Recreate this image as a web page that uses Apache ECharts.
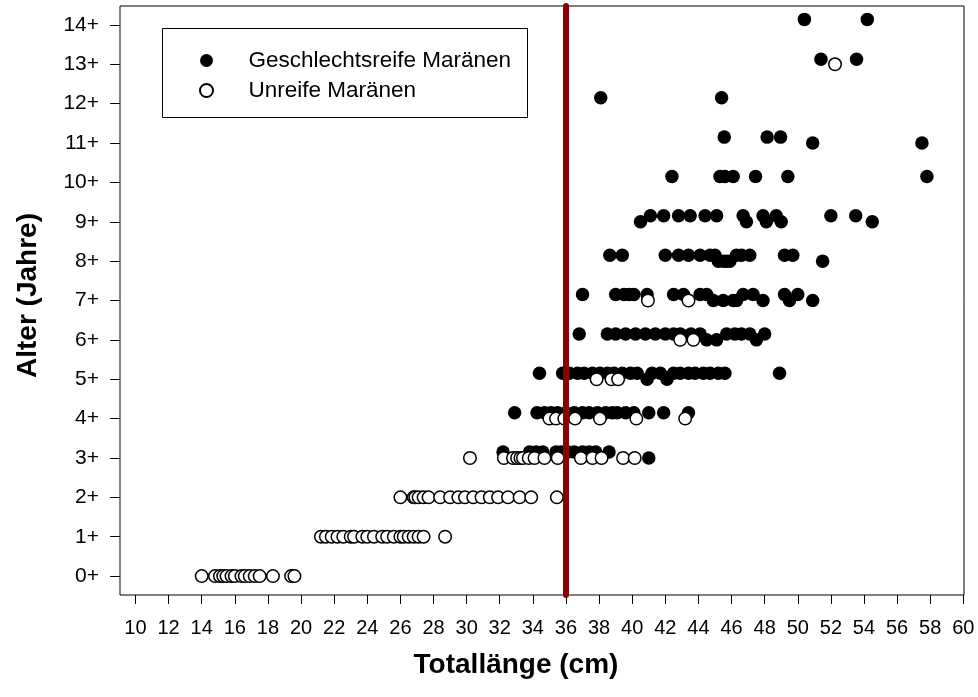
<!DOCTYPE html>
<html><head><meta charset="utf-8">
<script src="https://cdn.jsdelivr.net/npm/echarts@6/dist/echarts.min.js"></script>
<style>html,body{margin:0;padding:0;background:#fff}#c{width:978px;height:697px}</style>
</head><body><div id="c"></div>
<script>
// ---- data ----
const xTicks = [10,12,14,16,18,20,22,24,26,28,30,32,34,36,38,40,42,44,46,48,50,52,54,56,58,60];
const yTicks = [0,1,2,3,4,5,6,7,8,9,10,11,12,13,14];
const cutoffLength = [36];
const legendNames = ['Geschlechtsreife Maränen', 'Unreife Maränen'];

const matureLength = [
  32.2,33.8,34.2,34.6,35.4,35.7,36.1,36.5,37.0,37.4,37.8,38.6,41.0,
  32.9,34.25,34.7,35.1,35.5,36.0,36.5,37.0,37.4,37.9,38.4,38.8,39.1,39.6,40.1,41.0,41.9,43.4,
  34.4,35.8,36.2,36.7,37.1,37.6,38.05,38.5,38.9,39.4,39.9,40.3,41.2,41.7,42.5,42.9,43.4,43.8,44.3,44.7,45.2,45.6,48.9,40.9,42.1,
  36.8,38.5,39.0,39.6,40.2,40.8,41.4,42.0,42.5,42.9,43.55,44.1,45.7,46.2,46.6,47.1,48.0,44.5,45.1,47.5,
  37.0,39.0,39.5,39.8,40.1,40.9,42.5,43.1,44.1,44.5,46.7,47.3,49.2,50.0,44.9,45.5,46.1,46.3,47.9,49.5,50.9,
  38.65,39.4,42.0,42.8,43.4,44.1,44.7,45.0,46.3,46.6,47.1,49.2,49.7,45.2,45.5,45.7,45.9,51.5,
  41.1,41.9,42.8,43.5,44.4,45.1,46.7,47.9,48.7,52.0,53.5,40.5,46.9,48.1,49.0,54.5,
  42.4,45.3,45.6,46.1,47.45,49.4,57.8,
  45.56,48.15,48.96,50.9,57.5,
  38.1,45.4,
  51.4,53.55,
  50.4,54.2
];
const matureAge = [
  3.15,3.15,3.15,3.15,3.15,3.15,3.15,3.15,3.15,3.15,3.15,3.15,3.0,
  4.15,4.15,4.15,4.15,4.15,4.15,4.15,4.15,4.15,4.15,4.15,4.15,4.15,4.15,4.15,4.15,4.15,4.15,
  5.15,5.15,5.15,5.15,5.15,5.15,5.15,5.15,5.15,5.15,5.15,5.15,5.15,5.15,5.15,5.15,5.15,5.15,5.15,5.15,5.15,5.15,5.15,5.0,5.0,
  6.15,6.15,6.15,6.15,6.15,6.15,6.15,6.15,6.15,6.15,6.15,6.15,6.15,6.15,6.15,6.15,6.15,6.0,6.0,6.0,
  7.15,7.15,7.15,7.15,7.15,7.15,7.15,7.15,7.15,7.15,7.15,7.15,7.15,7.15,7.0,7.0,7.0,7.0,7.0,7.0,7.0,
  8.15,8.15,8.15,8.15,8.15,8.15,8.15,8.15,8.15,8.15,8.15,8.15,8.15,8.0,8.0,8.0,8.0,8.0,
  9.15,9.15,9.15,9.15,9.15,9.15,9.15,9.15,9.15,9.15,9.15,9.0,9.0,9.0,9.0,9.0,
  10.15,10.15,10.15,10.15,10.15,10.15,10.15,
  11.15,11.15,11.15,11.0,11.0,
  12.15,12.15,
  13.13,13.13,
  14.14,14.14
];

const immatureLength = [
  14.0,14.8,15.1,15.3,15.5,15.8,16.0,16.4,16.6,16.9,17.2,17.5,18.3,19.4,19.6,
  21.2,21.5,21.85,22.2,22.55,23.0,23.2,23.7,24.0,24.4,24.9,25.2,25.6,26.0,26.2,26.5,26.8,27.1,27.4,28.7,
  26.0,26.8,26.9,27.1,27.4,27.7,28.4,29.0,29.5,29.9,30.4,30.9,31.4,31.9,32.5,33.2,33.9,35.45,
  30.2,32.25,32.8,33.05,33.25,33.4,33.75,34.1,34.7,35.5,36.9,37.6,38.15,39.45,40.15,
  35.0,35.4,35.9,36.55,38.05,40.25,43.2,
  37.85,38.75,39.15,
  42.9,43.7,
  40.95,43.4,
  52.25
];
const immatureAge = [
  0,0,0,0,0,0,0,0,0,0,0,0,0,0,0,
  1,1,1,1,1,1,1,1,1,1,1,1,1,1,1,1,1,1,1,1,
  2,2,2,2,2,2,2,2,2,2,2,2,2,2,2,2,2,2,
  3,3,3,3,3,3,3,3,3,3,3,3,3,3,3,
  4,4,4,4,4,4,4,
  5,5,5,
  6,6,
  7,7,
  13
];

const font = "'Liberation Sans', Arial, Helvetica, sans-serif";
const chart = echarts.init(document.getElementById('c'), null, {renderer: 'canvas'});
const mature = matureLength.map((v, i) => [v, matureAge[i]]);
const immature = immatureLength.map((v, i) => [v, immatureAge[i]]);

chart.setOption({
  animation: false,
  backgroundColor: '#ffffff',
  textStyle: {fontFamily: font},
  grid: {left: 120, right: 14, top: 6, bottom: 102, show: true, borderColor: '#000', borderWidth: 1, backgroundColor: 'transparent'},
  graphic: [{
    type: 'rect', left: 162, top: 28, z: 50,
    shape: {width: 365, height: 89},
    style: {fill: '#fff', stroke: '#000', lineWidth: 1}
  }],
  legend: {
    orient: 'vertical', left: 199, top: 49, padding: 0, z: 60,
    itemWidth: 74, itemHeight: 13, itemGap: 7,
    data: legendNames,
    textStyle: {fontSize: 22.5, color: '#000', fontFamily: font, lineHeight: 22}
  },
  xAxis: {
    type: 'value', min: 9.064, max: 60.04,
    axisLine: {show: false, onZero: false},
    splitLine: {show: false},
    axisTick: {show: true, length: 9, inside: false, customValues: xTicks, lineStyle: {color: '#000', width: 1}},
    axisLabel: {customValues: xTicks, fontSize: 20, color: '#000', margin: 23, fontFamily: font},
    name: 'Totallänge (cm)', nameLocation: 'middle', nameGap: 56,
    nameTextStyle: {fontSize: 28, fontWeight: 'bold', color: '#000', fontFamily: font, padding: [0, 52, 0, 0]}
  },
  yAxis: {
    type: 'value', min: -0.48, max: 14.48,
    axisLine: {show: false, onZero: false},
    splitLine: {show: false},
    axisTick: {show: true, length: 10, customValues: yTicks, lineStyle: {color: '#000', width: 1}},
    axisLabel: {customValues: yTicks, fontSize: 21, color: '#000', margin: 21, fontFamily: font, formatter: v => v + '+'},
    name: 'Alter (Jahre)', nameLocation: 'middle', nameGap: 78,
    nameTextStyle: {fontSize: 28, fontWeight: 'bold', color: '#000', fontFamily: font, padding: [0, 0, 0, 10]}
  },
  series: [
    {
      name: legendNames[0], type: 'scatter', symbol: 'circle', symbolSize: 13.5, z: 2,
      itemStyle: {color: '#000', opacity: 1},
      data: mature
    },
    {
      name: legendNames[1], type: 'scatter', symbol: 'circle', symbolSize: 12.5, z: 3,
      itemStyle: {color: '#fff', borderColor: '#000', borderWidth: 1.5, opacity: 1},
      data: immature
    },
    {
      name: 'cutoff', type: 'scatter', data: [], z: 10,
      markLine: {
        silent: true, symbol: ['none', 'none'], label: {show: false},
        lineStyle: {color: '#8B0000', width: 6, type: 'solid', cap: 'round'},
        data: cutoffLength.map(v => ({xAxis: v}))
      }
    }
  ]
});
</script>
</body></html>
